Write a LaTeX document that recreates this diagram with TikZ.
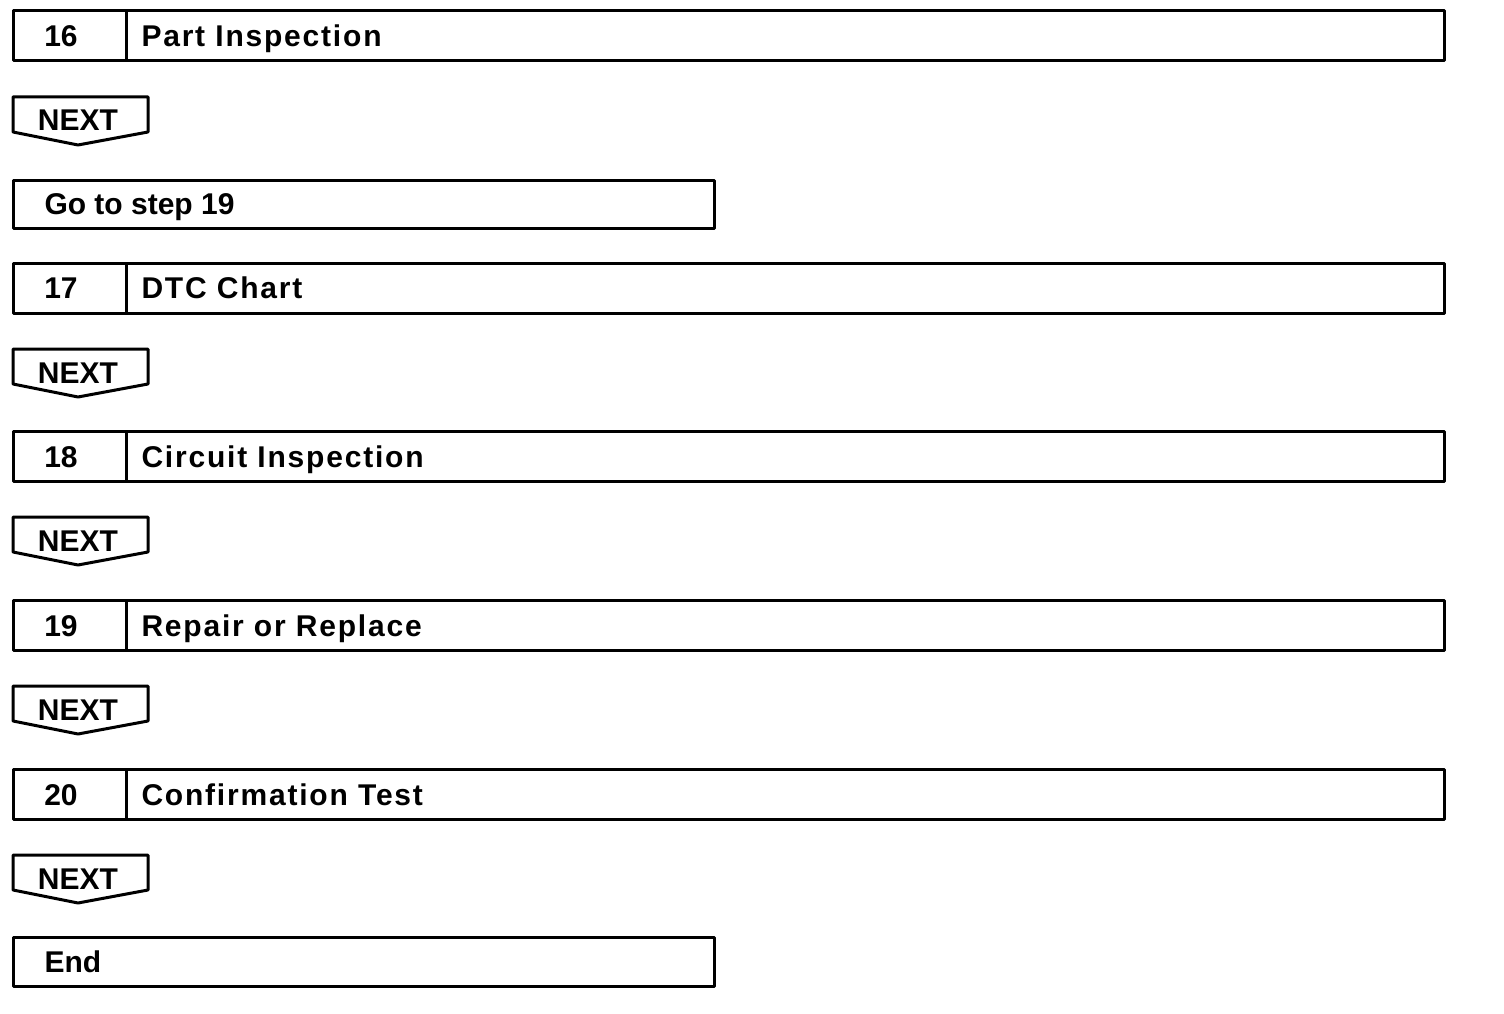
\documentclass[tikz,border=0pt]{standalone}
\usepackage{fontspec}
\setmainfont{Liberation Sans}
\newfontfamily\titlefont[LetterSpace=6]{Liberation Sans}
\begin{document}
\begin{tikzpicture}[x=1pt,y=-1pt,
  line width=3pt, line join=round,
  frame/.style={draw, rectangle, inner sep=0pt, minimum height=50pt},
  lbl/.style={font=\fontsize{30}{31}\selectfont\bfseries, inner sep=0pt, anchor=base},
  lblw/.style={lbl, anchor=base west},
  ttl/.style={font=\titlefont\fontsize{30}{31}\selectfont\bfseries, inner sep=0pt, anchor=base west},
  nextbox/.style={draw, line join=round}
]
\useasboundingbox (0,0) rectangle (1504,1014);

% Step 16
\node[frame, minimum width=1431pt] (s16) at (728.5,36) {};
\draw (126,11) -- (126,61);
\node[lbl] (n16) at (61,46.5) {16};
\node[ttl] (t16) at (140,46.5) {Part Inspection};

% NEXT 1
\draw[nextbox] (13,97) -- (148,97) -- (148,132) -- (78,145) -- (13,132) -- cycle;
\node[lbl] (x1) at (78,131) {NEXT};

% Go to step 19
\node[frame, minimum width=701pt, minimum height=48pt] (g19) at (363.5,204) {};
\node[lblw] (tg19) at (43,214) {Go to step 19};

% Step 17
\node[frame, minimum width=1431pt] (s17) at (728.5,288) {};
\draw (126,263) -- (126,313);
\node[lbl] (n17) at (61,298.5) {17};
\node[ttl] (t17) at (140,298.5) {DTC Chart};

% NEXT 2
\draw[nextbox] (13,349) -- (148,349) -- (148,384) -- (78,397) -- (13,384) -- cycle;
\node[lbl] (x2) at (78,383) {NEXT};

% Step 18
\node[frame, minimum width=1431pt] (s18) at (728.5,456.5) {};
\draw (126,431.5) -- (126,481.5);
\node[lbl] (n18) at (61,467) {18};
\node[ttl] (t18) at (140,467) {Circuit Inspection};

% NEXT 3
\draw[nextbox] (13,517) -- (148,517) -- (148,552) -- (78,565) -- (13,552) -- cycle;
\node[lbl] (x3) at (78,551) {NEXT};

% Step 19
\node[frame, minimum width=1431pt] (s19) at (728.5,625.5) {};
\draw (126,600.5) -- (126,650.5);
\node[lbl] (n19) at (61,636) {19};
\node[ttl] (t19) at (140,636) {Repair or Replace};

% NEXT 4
\draw[nextbox] (13,686) -- (148,686) -- (148,721) -- (78,734) -- (13,721) -- cycle;
\node[lbl] (x4) at (78,720) {NEXT};

% Step 20
\node[frame, minimum width=1431pt] (s20) at (728.5,794.5) {};
\draw (126,769.5) -- (126,819.5);
\node[lbl] (n20) at (61,805) {20};
\node[ttl] (t20) at (140,805) {Confirmation Test};

% NEXT 5
\draw[nextbox] (13,855) -- (148,855) -- (148,890) -- (78,903) -- (13,890) -- cycle;
\node[lbl] (x5) at (78,889) {NEXT};

% End
\node[frame, minimum width=701pt, minimum height=49pt] (end) at (363.5,961.5) {};
\node[lblw] (tend) at (43,972) {End};
\end{tikzpicture}
\end{document}
